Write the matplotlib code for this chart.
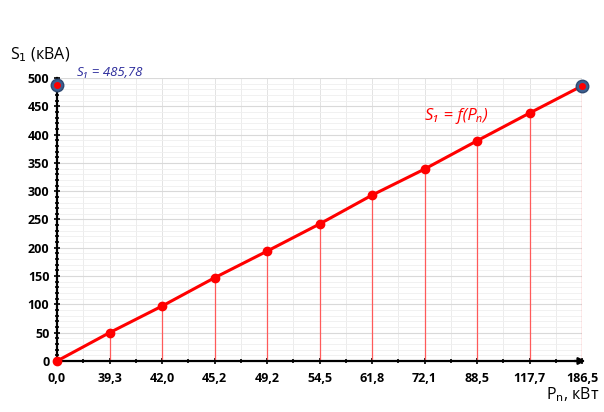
import matplotlib.pyplot as plt
import numpy as np

plt.rcParams['font.family'] = ['Open Sans', 'DejaVu Sans']

p_labels = ['0,0', '39,3', '42,0', '45,2', '49,2', '54,5', '61,8', '72,1', '88,5', '117,7', '186,5']
s1 = [0, 50, 97, 147, 194, 242, 293, 339, 389, 438, 486]
s1_max = 488
s1_max_label = 'S\u2081 = 485,78'

red = '#ff0000'
blue = '#3d5f8f'

fig = plt.figure(figsize=(6.04, 4.12), dpi=100)
ax = fig.add_axes([0.0944, 0.1238, 0.8692, 0.6869])

x = np.arange(len(p_labels))
ax.set_xlim(0, len(p_labels) - 1)
ax.set_ylim(0, 500)

# grid
ax.set_xticks(x)
ax.set_xticks(x[:-1] + 0.5, minor=True)
ax.set_yticks(np.arange(0, 501, 50))
ax.set_yticks(np.arange(0, 501, 10), minor=True)
ax.grid(which='major', axis='y', color='#d9d9d9', linewidth=0.8)
ax.grid(which='minor', axis='y', color='#efefef', linewidth=0.6)
ax.grid(which='minor', axis='x', color='#ececec', linewidth=0.7)
ax.grid(which='major', axis='x', color='#e3e3e3', linewidth=0.7)
ax.set_axisbelow(True)

# drop lines
ax.vlines(x[1:], 0, s1[1:], color='#ff5a5a', linewidth=0.9, zorder=2)

# main line
ax.plot(x, s1, '-o', color=red, linewidth=2.2, markersize=6, zorder=4, clip_on=False)

# blue highlight markers
ax.plot([x[0], x[-1]], [s1_max, s1[-1]], 'o', markersize=9, markerfacecolor=blue,
        markeredgecolor='#2e4a73', zorder=5, clip_on=False)
ax.plot([x[0], x[-1]], [s1_max, s1[-1]], 'o', markersize=4, color=red, zorder=6, clip_on=False)

ax.text(0.38, 503, s1_max_label, color='#2b2b9b', fontsize=9.5, style='italic')
ax.text(7.0, 425, 'S\u2081 = f(P\u2099)', color=red, fontsize=12, style='italic')

for side in ['top', 'right']:
    ax.spines[side].set_visible(False)
ax.spines['left'].set_linewidth(1.6)
ax.spines['bottom'].set_linewidth(1.6)

ax.set_xticklabels(p_labels, fontsize=9, fontweight='bold')
for t in ax.get_yticklabels():
    t.set_fontsize(9)
    t.set_fontweight('bold')
ax.tick_params(axis='both', which='major', length=4, width=1.2, direction='inout')
ax.tick_params(axis='both', which='minor', length=2.5, width=1.2, direction='inout')
ax.tick_params(axis='x', pad=6)

ax.annotate('', xy=(1.012, 0), xytext=(0.98, 0), xycoords='axes fraction',
            arrowprops=dict(arrowstyle='-|>', color='black', lw=1.6, mutation_scale=10))

fig.text(0.017, 0.855, 'S$_1$ (кВА)', fontsize=11.5)
fig.text(0.993, 0.03, 'P$_\\mathrm{n}$, кВт', fontsize=11.5, ha='right')

fig.savefig('out.png', dpi=100)
